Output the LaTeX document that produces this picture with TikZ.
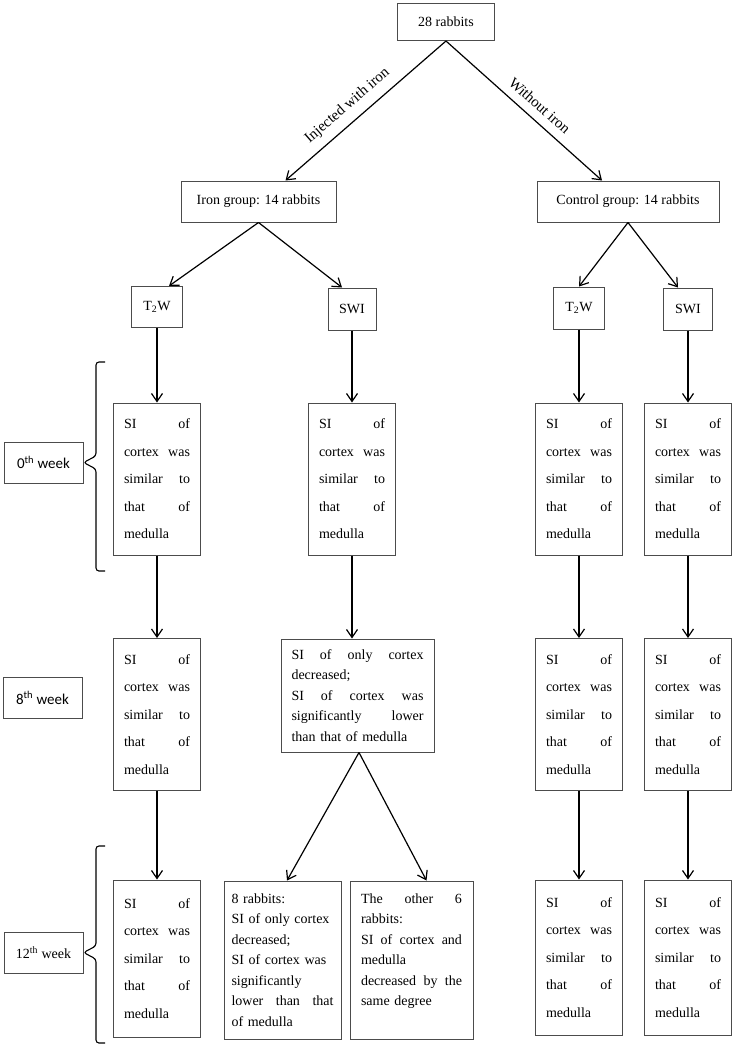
\documentclass[tikz,border=0pt]{standalone}
\usepackage{fontspec}
\setmainfont{Liberation Serif}
\newfontfamily\calib{Carlito}
\usetikzlibrary{arrows.meta}

\newcommand{\simtext}{SI\hfill of\\ cortex\hfill was\\ similar\hfill to\\ that\hfill of\\ medulla}

\tikzset{
	box/.style={draw=black!70, line width=1pt, inner sep=0pt, font=\fontsize{14}{17}\selectfont},
	tallbox/.style={box, text width=66pt, inner xsep=10.5pt, minimum height=152pt, align=left, font=\fontsize{14}{27.5}\selectfont},
	textbox/.style={box, align=left, font=\fontsize{14}{20.5}\selectfont},
	weekbox/.style={box, minimum width=79pt, minimum height=41pt},
	arr/.style={->, line width=1.2pt},
	brk/.style={line width=1.1pt, rounded corners=3pt},
	lbl/.style={midway, sloped, above=5pt, font=\fontsize{15}{15}\selectfont},
}

\begin{document}
\begin{tikzpicture}[x=1pt, y=-1pt, >={Straight Barb[length=8pt,width=11pt]}]
	\useasboundingbox (0,0) rectangle (738,1050);
	% groups
	\node[box, minimum width=97pt, minimum height=37pt] (all) at (446,22) {28 rabbits};
	\node[box, minimum width=155pt, minimum height=41pt] (iron) at (258.5,201.5) {Iron group: 14 rabbits};
	\node[box, minimum width=182pt, minimum height=41pt] (ctrl) at (628,201.5) {Control group: 14 rabbits};
	\draw[arr] (all.south) -- ([xshift=27pt]iron.north) node[lbl, pos=0.55] {Injected with iron};
	\draw[arr] (all.south) -- ([xshift=-26pt]ctrl.north) node[lbl, pos=0.54] {Without iron};
	% sequences
	\node[box, minimum width=51pt, minimum height=41pt] (it2w) at (157,307) {T\textsubscript{2}W};
	\node[box, minimum width=48pt, minimum height=42pt] (iswi) at (352,309) {SWI};
	\node[box, minimum width=51pt, minimum height=42pt] (ct2w) at (579,308) {T\textsubscript{2}W};
	\node[box, minimum width=49pt, minimum height=42pt] (cswi) at (688,309) {SWI};
	\draw[arr] (iron.south) -- ([xshift=12pt]it2w.north);
	\draw[arr] (iron.south) -- ([xshift=-10pt]iswi.north);
	\draw[arr] (ctrl.south) -- (ct2w.north);
	\draw[arr] (ctrl.south) -- ([xshift=-10pt]cswi.north);
	% 0th week
	\node[tallbox] (it2wa) at (157,479) {\simtext};
	\node[tallbox] (iswia) at (352,479) {\simtext};
	\node[tallbox] (ct2wa) at (579,479) {\simtext};
	\node[tallbox] (cswia) at (688,479) {\simtext};
	% 8th week
	\node[tallbox] (it2wb) at (157,714.5) {\simtext};
	\node[textbox, text width=132pt, inner xsep=10.5pt, minimum height=113pt] (iswib) at (357.5,695.5)
		{SI\hfill of\hfill only\hfill cortex\\ decreased;\\ SI\hfill of\hfill cortex\hfill was\\ significantly\hfill lower\\ than that of medulla};
	\node[tallbox] (ct2wb) at (579,714.5) {\simtext};
	\node[tallbox] (cswib) at (688,714.5) {\simtext};
	% 12th week
	\node[tallbox, minimum height=157pt] (it2wc) at (157,958.5) {\simtext};
	\node[textbox, text width=102pt, inner xsep=7.5pt, minimum height=158pt] (iswic) at (282.5,960)
		{8 rabbits:\\ \mbox{SI of only cortex}\\ decreased;\\ SI of cortex was\\ significantly\\ lower\hfill than\hfill that\\ of medulla};
	\node[textbox, text width=101pt, inner xsep=11pt, minimum height=158pt] (iswid) at (411.5,960)
		{The\hfill other\hfill 6\\ rabbits:\\ SI\hfill of\hfill cortex\hfill and\\ medulla\\ decreased\hfill by\hfill the\\ same degree\\ ~};
	\node[tallbox, minimum height=155pt] (ct2wc) at (579,957.5) {\simtext};
	\node[tallbox, minimum height=155pt] (cswic) at (688,957.5) {\simtext};
	% arrows down
	\draw[arr] (it2w.south) -- (it2wa.north);
	\draw[arr] (iswi.south) -- (iswia.north);
	\draw[arr] (ct2w.south) -- (ct2wa.north);
	\draw[arr] (cswi.south) -- (cswia.north);
	\draw[arr] (it2wa.south) -- (it2wb.north);
	\draw[arr] (iswia.south) -- (iswia.south |- iswib.north);
	\draw[arr] (ct2wa.south) -- (ct2wb.north);
	\draw[arr] (cswia.south) -- (cswib.north);
	\draw[arr] (it2wb.south) -- (it2wc.north);
	\draw[arr] ([xshift=1.5pt]iswib.south) -- ([xshift=4.5pt]iswic.north);
	\draw[arr] ([xshift=1.5pt]iswib.south) -- ([xshift=15pt]iswid.north);
	\draw[arr] (ct2wb.south) -- (ct2wc.north);
	\draw[arr] (cswib.south) -- (cswic.north);
	% weeks
	\node[weekbox, font=\calib\fontsize{15}{15}\selectfont] (w0) at (43.5,462.5) {0\textsuperscript{th} week};
	\node[weekbox, font=\calib\fontsize{15}{15}\selectfont] (w8) at (42.5,698) {8\textsuperscript{th} week};
	\node[weekbox] (w12) at (43.5,952.5) {12\textsuperscript{th} week};
	\draw[brk] (105,362) -- (96,362) -- (96,456) -- (w0.east) -- (96,469) -- (96,571) -- (105,571);
	\draw[brk] (105,846) -- (96,846) -- (96,946) -- (w12.east) -- (96,959) -- (96,1043) -- (105,1043);
\end{tikzpicture}
\end{document}
